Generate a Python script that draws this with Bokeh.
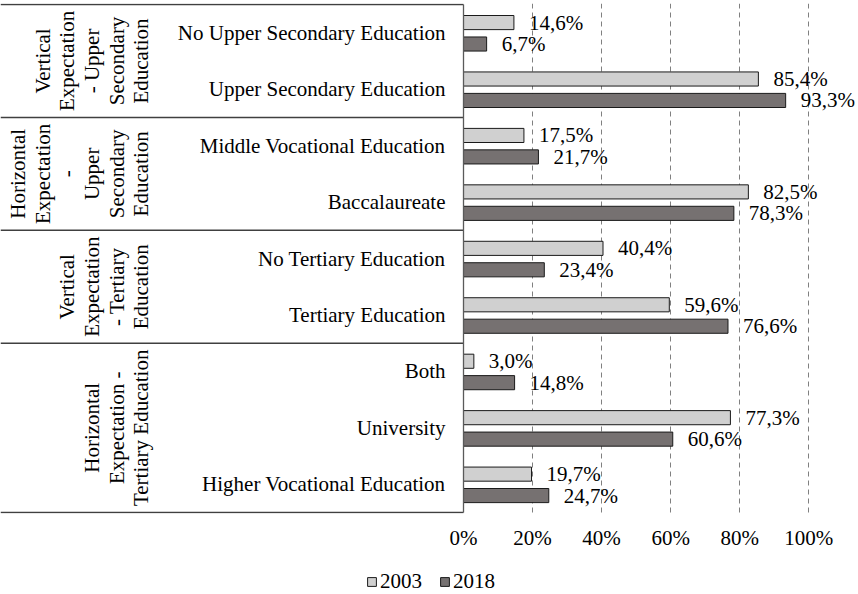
import math
from bokeh.plotting import figure
from bokeh.layouts import column
from bokeh.models import (ColumnDataSource, Range1d, FixedTicker, PrintfTickFormatter,
                          Legend, LegendItem)
from bokeh.core.properties import value
from bokeh.embed import file_html
from bokeh.resources import INLINE

# ---------------- data ----------------
groups = [
    "Vertical\nExpectation\n- Upper\nSecondary\nEducation",
    "Horizontal\nExpectation\n-\nUpper\nSecondary\nEducation",
    "Vertical\nExpectation\n- Tertiary\nEducation",
    "Horizontal\nExpectation -\nTertiary Education",
]
group_sizes = [2, 2, 2, 3]
categories = [
    "No Upper Secondary Education",
    "Upper Secondary Education",
    "Middle Vocational Education",
    "Baccalaureate",
    "No Tertiary Education",
    "Tertiary Education",
    "Both",
    "University",
    "Higher Vocational Education",
]
values_2003 = [14.6, 85.4, 17.5, 82.5, 40.4, 59.6, 3.0, 77.3, 19.7]
values_2018 = [6.7, 93.3, 21.7, 78.3, 23.4, 76.6, 14.8, 60.6, 24.7]
series_names = ["2003", "2018"]
x_ticks = [0, 20, 40, 60, 80, 100]

# ---------------- layout / style ----------------
FONT = "Liberation Serif"
FS = "21px"
W = 858
H_MAIN = 552
H_LEG = 42
TOP = 3
FRAME_H = 510
PX_PER_PCT = 3.453
ZERO_PX = 463          # frame x of the 0 % line
GROUP_LABEL_PX = 153   # frame x of the bottom edge of the rotated group labels
x_start = -ZERO_PX / PX_PER_PCT
x_end = (W - ZERO_PX) / PX_PER_PCT
C_2003 = "#d0d0d0"
C_2018 = "#767171"
C_EDGE = "#1a1a1a"

n = len(categories)
pad = 0.0177

def fmt(v):
    return f"{v:.1f}".replace(".", ",") + "%"

ys = [i + 0.5 for i in range(n)]
src = ColumnDataSource(dict(
    y=ys,
    cat=categories,
    v03=values_2003,
    v18=values_2018,
    y03=[y - 0.18 for y in ys],
    y18=[y + 0.20 for y in ys],
    l03=[fmt(v) for v in values_2003],
    l18=[fmt(v) for v in values_2018],
))

p = figure(width=W, height=H_MAIN,
           x_range=Range1d(x_start, x_end),
           y_range=Range1d(n + pad, -pad),
           output_backend="svg", toolbar_location=None,
           min_border_left=0, min_border_right=0, min_border_top=TOP,
           min_border_bottom=H_MAIN - FRAME_H - TOP,
           y_axis_location=None, outline_line_color=None,
           background_fill_color="white", border_fill_color="white")

# grid
p.xgrid.ticker = FixedTicker(ticks=x_ticks[1:])
p.xgrid.grid_line_color = "#808080"
p.xgrid.grid_line_dash = "5 4"
p.xgrid.grid_line_width = 1
p.ygrid.grid_line_color = None

# x axis
ax = p.xaxis[0]
ax.ticker = FixedTicker(ticks=x_ticks)
ax.formatter = PrintfTickFormatter(format="%d%%")
ax.axis_line_color = None
ax.major_tick_line_color = None
ax.minor_tick_line_color = None
ax.major_tick_out = 0
ax.major_tick_in = 0
ax.major_label_standoff = 12
ax.major_label_text_font = FONT
ax.major_label_text_font_size = FS
ax.major_label_text_color = "black"

# bars
p.hbar(y="y03", left=0, right="v03", height=0.25, source=src,
       fill_color=C_2003, line_color=C_EDGE, line_width=1)
p.hbar(y="y18", left=0, right="v18", height=0.25, source=src,
       fill_color=C_2018, line_color=C_EDGE, line_width=1)

# value labels
for lab, xcol, ycol in (("l03", "v03", "y03"), ("l18", "v18", "y18")):
    p.text(x=xcol, y=ycol, text=lab, source=src, x_offset=15,
           text_align="left", text_baseline="middle",
           text_font=value(FONT), text_font_size=FS, text_color="black")

# category labels
p.text(x=0, y="y", text="cat", source=src, x_offset=-18,
       text_align="right", text_baseline="middle",
       text_font=value(FONT), text_font_size=FS, text_color="black")

# group structure
bounds = [0]
for s in group_sizes:
    bounds.append(bounds[-1] + s)
centers = [(bounds[i] + bounds[i + 1]) / 2 for i in range(len(groups))]

p.text(x=[0] * len(groups), y=centers, text=groups,
       x_offset=-(ZERO_PX - GROUP_LABEL_PX), angle=math.pi / 2,
       text_align="center", text_baseline="bottom", text_line_height=1.03,
       text_font=value(FONT), text_font_size=FS, text_color="black")

p.segment(x0=[x_start] * len(bounds), y0=bounds, x1=[0] * len(bounds), y1=bounds,
          line_color="#404040", line_width=1.5)
p.segment(x0=[0], y0=[0], x1=[0], y1=[n], line_color="#5a5a5a", line_width=1.3)

# ---------------- legend strip ----------------
# Series swatches for the legend; this strip's ranges show none of the marks,
# only the legend itself is visible.
p2 = figure(width=W, height=H_LEG,
            x_range=Range1d(1000, 1001), y_range=Range1d(-20, -19),
            output_backend="svg", toolbar_location=None,
            min_border_left=0, min_border_right=0, min_border_top=0,
            min_border_bottom=0, x_axis_location=None, y_axis_location=None,
            outline_line_color=None)
p2.grid.grid_line_color = None
k03 = p2.rect(x="v03", y="y03", width=1, height=0.25, source=src,
              fill_color=C_2003, line_color=C_EDGE, line_width=1)
k18 = p2.rect(x="v18", y="y18", width=1, height=0.25, source=src,
              fill_color=C_2018, line_color=C_EDGE, line_width=1)
legend = Legend(items=[LegendItem(label=series_names[0], renderers=[k03]),
                       LegendItem(label=series_names[1], renderers=[k18])],
                location=(366, 0), orientation="horizontal",
                glyph_width=11, glyph_height=11, label_standoff=3, spacing=17,
                padding=0, margin=0, border_line_color=None,
                background_fill_alpha=0, label_height=20,
                label_text_font=FONT, label_text_font_size=FS,
                label_text_color="black")
p2.add_layout(legend)

open("out.html", "w").write(file_html(column(p, p2, spacing=0), INLINE))
